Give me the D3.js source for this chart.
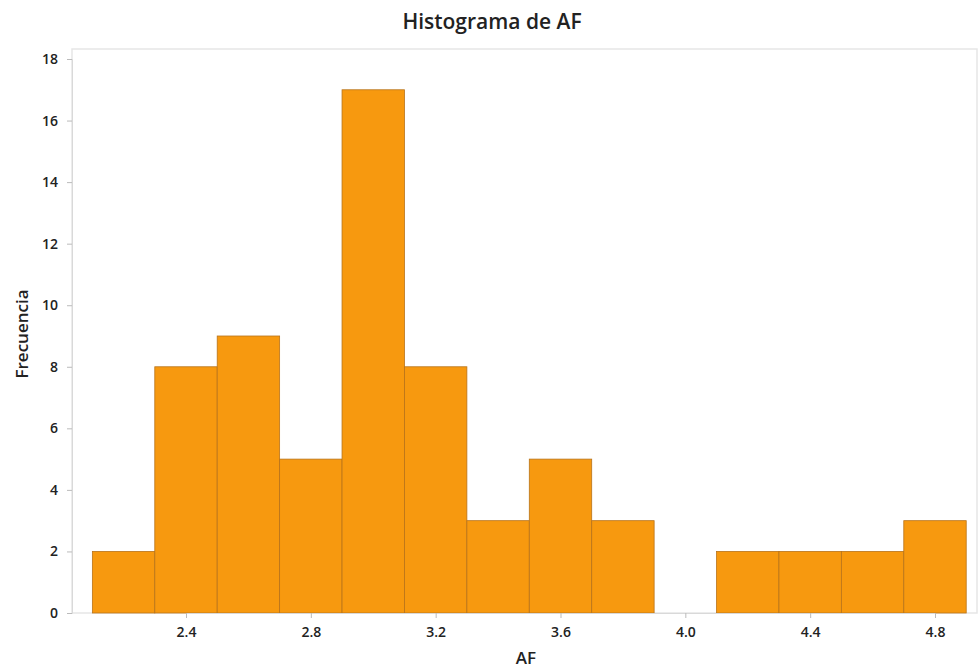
<!DOCTYPE html>
<html><head><meta charset="utf-8">
<script src="https://cdn.jsdelivr.net/npm/d3@7"></script>
<style>body{margin:0;background:#fff}svg{display:block}text{font-family:"Open Sans","Noto Sans",sans-serif}</style>
</head><body><svg id="c" width="980" height="672"></svg>
<script>
const binStarts = [2.1,2.3,2.5,2.7,2.9,3.1,3.3,3.5,3.7,3.9,4.1,4.3,4.5,4.7];
const binWidth = 0.2;
const counts = [2,8,9,5,17,8,3,5,3,0,2,2,2,3];
const xTicks = [2.4,2.8,3.2,3.6,4.0,4.4,4.8];
const yTicks = [0,2,4,6,8,10,12,14,16,18];
const title = "Histograma de AF";
const xLabel = "AF";
const yLabel = "Frecuencia";

(function(){
const svg = d3.select("#c");
const x = d3.scaleLinear().domain([2.4,4.8]).range([186,935]);
const y = d3.scaleLinear().domain([0,18]).range([613,59]);
const pL = 72, pT = 49, pR = 977, pB = 613;

svg.append("rect").attr("x",pL).attr("y",pT).attr("width",pR-pL).attr("height",pB-pT)
  .attr("fill","#fff").attr("stroke","#e6e6e6").attr("stroke-width",1.5);

svg.append("g").selectAll("rect").data(binStarts).join("rect")
  .attr("x",d=>x(d)).attr("width",d=>x(d+binWidth)-x(d))
  .attr("y",(d,i)=>y(counts[i])).attr("height",(d,i)=>y(0)-y(counts[i]))
  .attr("fill","#F7990F").attr("stroke","#B8731A").attr("stroke-width",0.8);

const xa = svg.append("g").attr("transform",`translate(0,${pB})`)
  .call(d3.axisBottom(x).tickValues(xTicks).tickFormat(d3.format(".1f")).tickSize(5).tickPadding(9));
const ya = svg.append("g").attr("transform",`translate(${pL},0)`)
  .call(d3.axisLeft(y).tickValues(yTicks).tickSize(5).tickPadding(9));
[xa,ya].forEach(a=>{
  a.select(".domain").attr("stroke","#d9d9d9");
  a.selectAll(".tick line").attr("stroke","#bbb");
  a.selectAll(".tick text").attr("fill","#222").attr("font-size",14).attr("font-weight",600);
});

svg.append("text").attr("x",492).attr("y",29).attr("text-anchor","middle")
  .attr("font-size",21).attr("font-weight",600).attr("fill","#222").text(title);
svg.append("text").attr("x",526).attr("y",664).attr("text-anchor","middle")
  .attr("font-size",17).attr("font-weight",600).attr("fill","#222").text(xLabel);
svg.append("text").attr("transform","translate(28,334) rotate(-90)").attr("text-anchor","middle")
  .attr("font-size",17).attr("font-weight",600).attr("fill","#222").text(yLabel);
})();
</script></body></html>
